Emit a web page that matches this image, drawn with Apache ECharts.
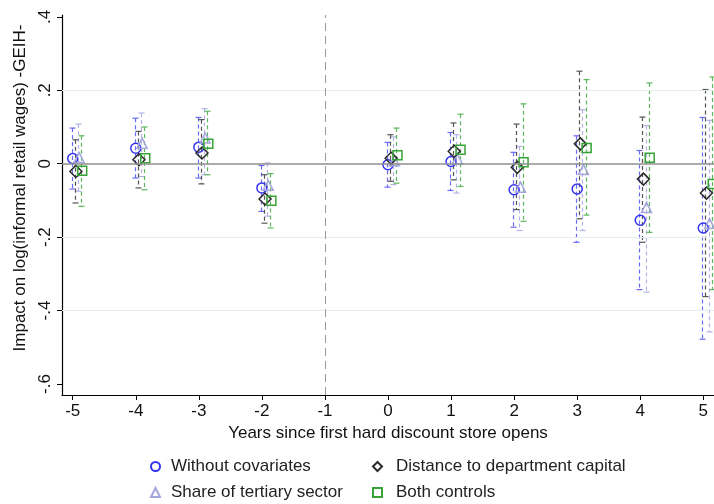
<!DOCTYPE html>
<html>
<head>
<meta charset="utf-8">
<script src="https://cdn.jsdelivr.net/npm/echarts@6/dist/echarts.min.js"></script>
<style>
html,body{margin:0;padding:0;background:#fff;}
#chart{width:714px;height:504px;}
</style>
</head>
<body>
<div id="chart"></div>
<script>
// ---- data ----
const years = [-5, -4, -3, -2, 0, 1, 2, 3, 4, 5];
const xTicks = [-5, -4, -3, -2, -1, 0, 1, 2, 3, 4, 5];
const yTicks = [-0.6, -0.4, -0.2, 0, 0.2, 0.4];
const yTickLabels = ['-.6', '-.4', '-.2', '0', '.2', '.4'];

const noCov   = [0.014, 0.042, 0.045, -0.066, -0.003, 0.006, -0.071, -0.069, -0.154, -0.175];
const noCovLo = [-0.069, -0.039, -0.039, -0.130, -0.064, -0.073, -0.173, -0.214, -0.343, -0.478];
const noCovHi = [0.097, 0.124, 0.126, -0.005, 0.058, 0.085, 0.031, 0.076, 0.036, 0.126];

const tert   = [0.017, 0.056, 0.070, -0.059, 0.008, 0.013, -0.064, -0.016, -0.119, -0.163];
const tertLo = [-0.075, -0.035, -0.030, -0.143, -0.057, -0.080, -0.182, -0.182, -0.350, -0.458];
const tertHi = [0.108, 0.138, 0.150, 0.002, 0.073, 0.079, 0.047, 0.147, 0.104, 0.118];

const dist   = [-0.021, 0.011, 0.029, -0.096, 0.015, 0.034, -0.010, 0.054, -0.042, -0.080];
const distLo = [-0.107, -0.066, -0.055, -0.162, -0.048, -0.044, -0.125, -0.150, -0.214, -0.362];
const distHi = [0.065, 0.088, 0.120, -0.030, 0.079, 0.111, 0.108, 0.252, 0.127, 0.202];

const both   = [-0.019, 0.015, 0.054, -0.101, 0.023, 0.038, 0.004, 0.043, 0.016, -0.055];
const bothLo = [-0.116, -0.071, -0.030, -0.175, -0.053, -0.062, -0.157, -0.140, -0.187, -0.343];
const bothHi = [0.076, 0.100, 0.143, -0.027, 0.097, 0.135, 0.163, 0.229, 0.220, 0.236];

const names = ['Without covariates', 'Distance to department capital', 'Share of tertiary sector', 'Both controls'];

// ---- styling ----
const FONT = '"Liberation Sans", Arial, sans-serif';
const FS = 17;
const specs = [
  {name: names[0], est: noCov, lo: noCovLo, hi: noCovHi, off: 0.00, symbol: 'circle', size: 10, color: '#3434f0', ci: '#6a6af5'},
  {name: names[2], est: tert,  lo: tertLo,  hi: tertHi,  off: 0.10, symbol: 'triangle', size: 10, color: '#a6a6df', ci: '#b4b4e6'},
  {name: names[1], est: dist,  lo: distLo,  hi: distHi,  off: 0.05, symbol: 'diamond', size: 12, color: '#2a2a2a', ci: '#555555'},
  {name: names[3], est: both,  lo: bothLo,  hi: bothHi,  off: 0.15, symbol: 'rect', size: 9, color: '#36a336', ci: '#5cb85c'}
];

const series = [];

// reference lines
series.push({
  type: 'scatter', data: [], silent: true, z: 1,
  markLine: {
    silent: true, symbol: 'none', animation: false,
    label: {show: false},
    data: [
      {yAxis: 0.2, lineStyle: {color: '#e4eef0', width: 1, type: 'solid'}},
      {yAxis: -0.2, lineStyle: {color: '#e4eef0', width: 1, type: 'solid'}},
      {yAxis: -0.4, lineStyle: {color: '#e4eef0', width: 1, type: 'solid'}},
      {yAxis: 0, lineStyle: {color: '#8f8f8f', width: 1.5, type: 'solid'}},
      {xAxis: -1, lineStyle: {color: '#9a9a9a', width: 1, type: [8, 5]}}
    ]
  }
});

// confidence intervals
specs.forEach(function (s) {
  const d = years.map(function (y, i) { return [y + s.off, s.lo[i], s.hi[i]]; });
  series.push({
    type: 'custom', name: s.name + ' CI', z: 2, animation: false,
    data: d,
    renderItem: function (params, api) {
      const top = api.coord([api.value(0), api.value(2)]);
      const bot = api.coord([api.value(0), api.value(1)]);
      const x = Math.round(top[0]) - 0.5;
      const style = {stroke: s.ci, lineWidth: 1.2, lineDash: [4, 3], fill: null};
      const capStyle = {stroke: s.ci, lineWidth: 1.2, fill: null};
      return {
        type: 'group',
        children: [
          {type: 'line', shape: {x1: x, y1: top[1], x2: x, y2: bot[1]}, style: style},
          {type: 'line', shape: {x1: x - 3, y1: top[1], x2: x + 3, y2: top[1]}, style: capStyle},
          {type: 'line', shape: {x1: x - 3, y1: bot[1], x2: x + 3, y2: bot[1]}, style: capStyle}
        ]
      };
    }
  });
});

// point estimates
specs.forEach(function (s) {
  series.push({
    type: 'scatter', name: s.name, z: 3, animation: false,
    symbol: s.symbol, symbolSize: s.size,
    itemStyle: {color: 'rgba(255,255,255,0)', borderColor: s.color, borderWidth: 1.5, opacity: 1},
    data: years.map(function (y, i) { return [y + s.off, s.est[i]]; })
  });
});

const legendBase = {
  orient: 'vertical', itemWidth: 9, itemHeight: 9, itemGap: 9, padding: 0,
  selectedMode: false
};

const option = {
  backgroundColor: '#ffffff',
  animation: false,
  grid: {left: 62, right: 0, top: 15, height: 380},
  xAxis: {
    type: 'value', min: -5.17, max: 5.17,
    name: 'Years since first hard discount store opens',
    nameLocation: 'middle', nameGap: 29,
    nameTextStyle: {fontFamily: FONT, fontSize: FS, color: '#111'},
    axisLine: {onZero: false, lineStyle: {color: '#000', width: 1.2}},
    axisTick: {show: true, length: 5, customValues: xTicks, lineStyle: {color: '#000'}},
    axisLabel: {customValues: xTicks, fontFamily: FONT, fontSize: FS, color: '#111', margin: 8},
    splitLine: {show: false}
  },
  yAxis: {
    type: 'value', min: -0.63, max: 0.405,
    name: 'Impact on log(informal retail wages) -GEIH-',
    nameLocation: 'middle', nameGap: 30, nameRotate: 90,
    nameTextStyle: {fontFamily: FONT, fontSize: FS, color: '#111', padding: [0, 0, 0, 34]},
    axisLine: {show: true, onZero: false, lineStyle: {color: '#000', width: 1.2}},
    axisTick: {show: true, length: 5, customValues: yTicks, lineStyle: {color: '#000'}},
    axisLabel: {
      customValues: yTicks, rotate: 90, fontFamily: FONT, fontSize: FS, color: '#111', margin: 8,
      formatter: function (v) {
        const i = yTicks.findIndex(function (t) { return Math.abs(t - v) < 1e-6; });
        return i >= 0 ? yTickLabels[i] : '';
      }
    },
    splitLine: {show: false}
  },
  legend: [
    Object.assign({}, legendBase, {left: 150, top: 458, data: [names[0], names[2]],
      textStyle: {fontFamily: FONT, fontSize: FS, color: '#222', padding: [0, 0, 0, 6]}}),
    Object.assign({}, legendBase, {left: 372, top: 458, data: [names[1], names[3]],
      textStyle: {fontFamily: FONT, fontSize: FS, color: '#222', padding: [0, 0, 0, 9]}})
  ],
  series: series
};

const chart = echarts.init(document.getElementById('chart'), null, {renderer: 'canvas'});
chart.setOption(option);
</script>
</body>
</html>
